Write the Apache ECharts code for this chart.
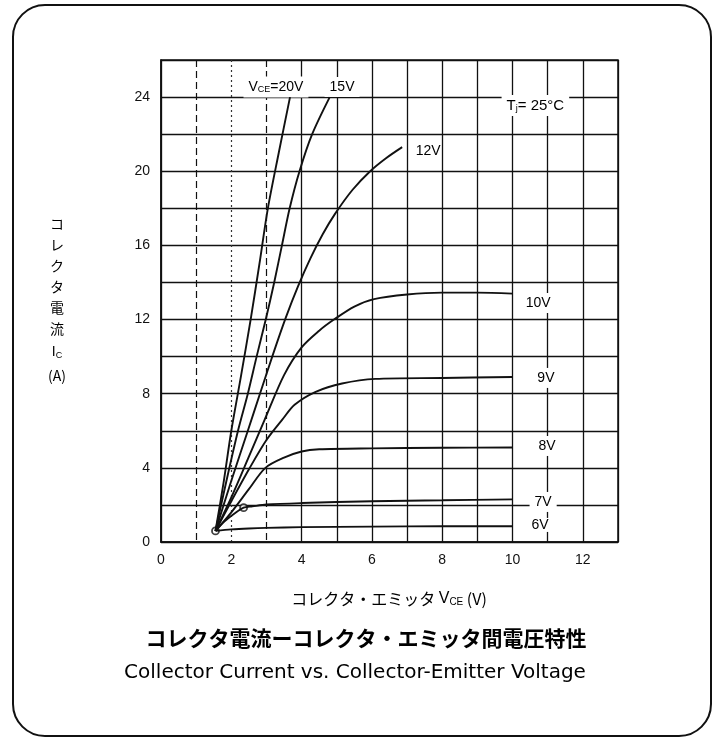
<!DOCTYPE html>
<html><head><meta charset="utf-8">
<script src="https://cdn.jsdelivr.net/npm/echarts@6/dist/echarts.min.js"></script>
<style>html,body{margin:0;padding:0;background:#fff}#c{width:718px;height:739px}</style>
</head><body><div id="c"></div>
<script>
// ---- data ----
const xTicks = [0, 2, 4, 6, 8, 10, 12];
const yTicks = [0, 4, 8, 12, 16, 20, 24];
const curveNames = ['6V', '7V', '8V', '9V', '10V', '12V', '15V', '20V'];
const v6  = [[1.55,0.6],[2,0.68],[2.5,0.73],[3,0.76],[4,0.8],[6,0.83],[8,0.85],[10,0.85]];
const v7  = [[1.55,0.6],[1.8,1.1],[2.1,1.55],[2.35,1.85],[2.6,1.92],[3,2.02],[4,2.1],[6,2.2],[8,2.25],[10,2.3]];
const v8  = [[1.55,0.6],[2,1.6],[2.5,2.85],[2.97,4.0],[3.5,4.55],[4,4.88],[4.5,5.0],[6,5.05],[8,5.08],[10,5.1]];
const v9  = [[1.55,0.6],[2,2.2],[2.51,3.95],[3,5.5],[3.45,6.6],[3.8,7.4],[4.4,8.1],[5.15,8.55],[6.1,8.8],[8,8.85],[10,8.9]];
const v10 = [[1.55,0.6],[2,2.4],[2.5,4.6],[2.95,6.6],[3.5,9.0],[4,10.5],[4.5,11.4],[4.92,12],[5.5,12.7],[6.06,13.1],[7,13.35],[8,13.45],[9,13.45],[10,13.4]];
const v12 = [[1.55,0.6],[2.0,3.3],[2.47,6],[2.85,8.2],[3.2,10.2],[3.55,12.1],[3.9,13.8],[4.25,15.3],[4.6,16.6],[4.95,17.7],[5.45,19],[5.95,20],[6.4,20.7],[6.86,21.3]];
const v15 = [[1.55,0.6],[1.85,3.2],[2.19,6],[2.47,8],[2.72,10],[2.98,12],[3.22,14],[3.44,16],[3.66,18],[3.94,20],[4.3,22],[4.8,24]];
const v20 = [[1.55,0.6],[1.78,3.2],[2.0,6],[2.28,9],[2.55,12],[2.8,15],[3.04,18],[3.35,21],[3.67,24]];
const markerPoints = [[1.55,0.6],[2.35,1.85]];

const curves = [v6, v7, v8, v9, v10, v12, v15, v20];

// ---- chart ----
const chart = echarts.init(document.getElementById('c'), null, {renderer: 'canvas'});
const INK = '#000';
const tickFont = {fontFamily: 'Liberation Sans', fontSize: 14, color: '#111'};
const T = 'rgba(0,0,0,0)';
function colorsFor(idxs, col) {
  const a = [];
  for (let i = 0; i <= 13; i++) a.push(idxs.indexOf(i) >= 0 ? col : T);
  return a;
}
const solidCols = colorsFor([0,4,5,6,7,8,9,10,11,12,13], '#111');

const series = curves.map((d, i) => ({
  name: curveNames[i], type: 'line', data: d, xAxisIndex: 0, yAxisIndex: 0,
  smooth: 0.3, showSymbol: false, silent: true,
  lineStyle: {color: '#111', width: 1.9}
}));
series.push({
  type: 'scatter', data: markerPoints, xAxisIndex: 0, yAxisIndex: 0, silent: true,
  symbol: 'circle', symbolSize: 7,
  itemStyle: {color: '#fff', borderColor: '#111', borderWidth: 1.8}
});
const baseLabel = {show: true, position: 'inside', color: INK, opacity: 1, fontFamily: 'Liberation Sans',
                   fontSize: 14, backgroundColor: '#fff', padding: [3, 5]};
const lab = (x, y, txt, extra) => ({value: [x, y], label: Object.assign({}, baseLabel, {formatter: txt}, extra || {})});
const subRich = (big) => ({a: {fontSize: big, fontFamily: 'Liberation Sans', color: INK},
                           s: {fontSize: 9, fontFamily: 'Liberation Sans', color: INK, padding: [6, 0, 0, 0]}});
series.push({
  type: 'scatter', xAxisIndex: 0, yAxisIndex: 0, silent: true, symbolSize: 0,
  itemStyle: {opacity: 1, color: INK},
  label: baseLabel,
  data: [
    lab(10.73, 12.89, '10V'),
    lab(10.95, 8.85, '9V'),
    lab(10.98, 5.18, '8V'),
    lab(10.87, 2.16, '7V'),
    lab(10.78, 0.92, '6V', {padding: [0, 4]}),
    lab(7.6, 21.09, '12V', {backgroundColor: 'transparent'}),
    lab(5.15, 24.55, '15V'),
    lab(3.27, 24.55, '{a|V}{s|CE}{a|=20V}', {rich: subRich(14)}),
    lab(10.65, 23.55, '{a|T}{s|j}{a|= 25°C}', {rich: subRich(15)})
  ]
});

const hiddenX = (cols, type) => ({
  type: 'value', min: 0, max: 13, interval: 1, gridIndex: 0,
  axisLine: {show: false}, axisTick: {show: false}, axisLabel: {show: false},
  splitLine: {show: true, showMinLine: true, showMaxLine: true, lineStyle: {color: cols, width: 1.2, type: type}}
});

chart.setOption({
  animation: false,
  backgroundColor: '#fff',
  grid: {left: 161, right: 100, top: 60, bottom: 197, show: true, borderColor: '#111', borderWidth: 1.5, backgroundColor: 'transparent'},
  xAxis: [
    {
      type: 'value', min: 0, max: 13, interval: 1,
      axisLine: {show: true, lineStyle: {color: '#111', width: 1.5}},
      axisTick: {show: false},
      axisLabel: Object.assign({margin: 11, formatter: v => (xTicks.indexOf(v) >= 0 ? String(v) : '')}, tickFont),
      splitLine: {show: true, showMinLine: true, showMaxLine: true, lineStyle: {color: solidCols, width: 1.3}}
    },
    Object.assign(hiddenX(colorsFor([1, 3], '#111'), [7, 4]), {position: 'top'}),
    hiddenX(colorsFor([2], '#333'), [2, 3])
  ],
  yAxis: {
    type: 'value', min: 0, max: 26, interval: 2,
    axisLine: {show: true, lineStyle: {color: '#111', width: 1.5}},
    axisTick: {show: false},
    axisLabel: Object.assign({margin: 11, formatter: v => (yTicks.indexOf(v) >= 0 ? String(v) : '')}, tickFont),
    splitLine: {show: true, lineStyle: {color: '#111', width: 1.3}}
  },
  series: series,
  graphic: [
    {type: 'rect', shape: {x: 13, y: 5, width: 698, height: 731, r: 32}, silent: true,
     style: {fill: 'transparent', stroke: '#111', lineWidth: 2}},
    {type: 'text', x: 57, y: 300, silent: true,
     style: {text: 'コ\nレ\nク\nタ\n電\n流\n{i|I}{s|C}\n(A)', align: 'center', verticalAlign: 'middle',
             font: '14px "Noto Sans CJK JP"', lineHeight: 21, fill: INK,
             rich: {i: {fontSize: 14, fontFamily: 'Liberation Sans', fill: INK, lineHeight: 26},
                    s: {fontSize: 9, fontFamily: 'Liberation Sans', fill: INK, padding: [6, 0, 0, 0], lineHeight: 26}}}},
    {type: 'text', x: 389, y: 599, silent: true,
     style: {text: 'コレクタ・エミッタ {v|V}{s|CE} (V)', align: 'center', verticalAlign: 'middle',
             font: '16px "Noto Sans CJK JP"', fill: INK,
             rich: {v: {fontSize: 16, fontFamily: 'Liberation Sans', fill: INK},
                    s: {fontSize: 10, fontFamily: 'Liberation Sans', fill: INK, padding: [7, 0, 0, 0]}}}},
    {type: 'text', x: 366, y: 638, silent: true,
     style: {text: 'コレクタ電流ーコレクタ・エミッタ間電圧特性', align: 'center', verticalAlign: 'middle',
             font: 'bold 21px "Noto Sans CJK JP"', fill: INK}},
    {type: 'text', x: 355, y: 673, silent: true,
     style: {text: 'Collector Current vs. Collector-Emitter Voltage', align: 'center', verticalAlign: 'middle',
             font: '20px "DejaVu Sans"', fill: INK}}
  ]
});
</script>
</body></html>
